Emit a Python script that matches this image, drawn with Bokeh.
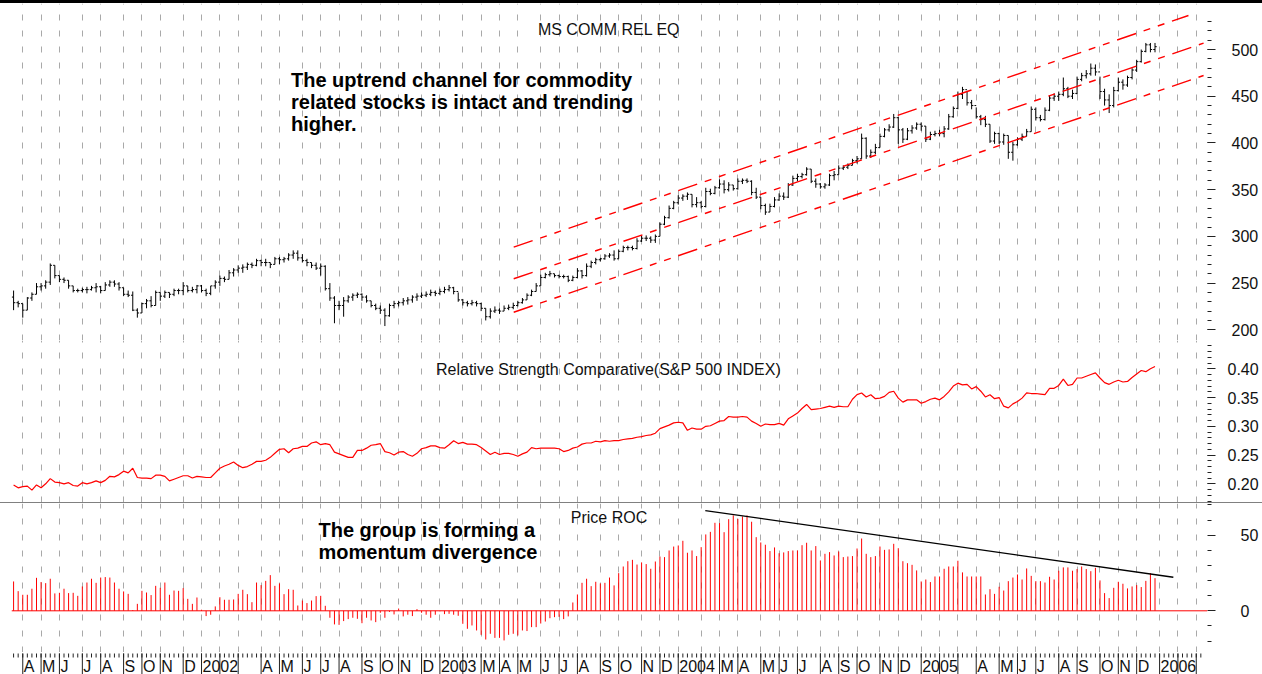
import pandas as pd
from bokeh.plotting import figure
from bokeh.models import (Range1d, FixedTicker, Grid, Span, Label, LabelSet,
                          ColumnDataSource, Div, PrintfTickFormatter)
from bokeh.layouts import column
from bokeh.embed import file_html
from bokeh.resources import INLINE
from bokeh.core.properties import value

FONT = "Liberation Sans"

# ---------------- data (weekly bars, Fridays; week 0 = 2001-03-16) ----------------
first_week = "2001-03-16"
first_open = 235

price_close = [
    229, 228, 221, 234, 238, 246, 247, 251, 269, 258,
    254, 253, 247, 242, 242, 243, 243, 245, 246, 242,
    248, 251, 249, 245, 238, 237, 221, 218, 228, 231,
    226, 240, 236, 240, 238, 242, 242, 247, 242, 243,
    247, 242, 239, 247, 251, 255, 254, 261, 264, 266,
    267, 270, 269, 274, 272, 272, 270, 276, 275, 276,
    280, 282, 277, 274, 272, 269, 266, 268, 244, 234,
    226, 226, 231, 235, 237, 238, 235, 231, 226, 223,
    221, 215, 226, 228, 229, 231, 232, 235, 236, 237,
    238, 240, 239, 241, 243, 245, 241, 232, 229, 228,
    229, 228, 223, 214, 220, 221, 220, 223, 224, 226,
    229, 232, 237, 241, 247, 256, 259, 260, 258, 257,
    257, 253, 256, 263, 258, 268, 272, 275, 276, 279,
    280, 276, 284, 288, 288, 287, 295, 298, 298, 296,
    300, 313, 320, 330, 336, 341, 343, 345, 334, 336,
    332, 348, 346, 352, 356, 350, 355, 351, 359, 360,
    359, 347, 342, 333, 326, 332, 339, 343, 342, 355,
    362, 364, 366, 372, 359, 356, 353, 355, 365, 366,
    373, 374, 376, 381, 383, 405, 386, 390, 395, 407,
    414, 417, 427, 414, 404, 413, 416, 420, 418, 404,
    409, 410, 410, 415, 428, 437, 452, 457, 443, 440,
    428, 425, 420, 402, 410, 401, 408, 390, 398, 404,
    407, 412, 436, 427, 425, 435, 448, 450, 452, 458,
    450, 453, 468, 472, 474, 480, 476, 455, 446, 440,
    456, 465, 462, 470, 478, 487, 498, 505, 500, 503,
]
price_high = [
    242, 231, 228, 235, 240, 250, 250, 253, 271, 269,
    258, 256, 253, 247, 244, 245, 246, 247, 250, 247,
    251, 253, 253, 251, 245, 242, 241, 223, 229, 233,
    236, 242, 240, 242, 240, 244, 244, 251, 247, 246,
    248, 248, 244, 247, 253, 258, 257, 264, 266, 269,
    270, 272, 272, 276, 275, 276, 272, 278, 278, 278,
    282, 285, 285, 281, 276, 272, 272, 271, 269, 250,
    236, 231, 235, 237, 239, 240, 239, 237, 231, 228,
    226, 223, 228, 231, 231, 234, 235, 237, 239, 240,
    241, 243, 242, 244, 246, 248, 246, 240, 233, 231,
    232, 231, 229, 223, 223, 225, 223, 226, 227, 229,
    231, 234, 239, 243, 250, 259, 261, 263, 260, 259,
    259, 258, 258, 266, 264, 271, 274, 277, 277, 281,
    282, 285, 286, 290, 290, 290, 298, 301, 301, 300,
    302, 315, 322, 333, 338, 344, 345, 347, 345, 342,
    338, 352, 351, 354, 361, 360, 358, 355, 362, 362,
    362, 360, 352, 342, 335, 335, 342, 346, 347, 357,
    365, 367, 368, 374, 372, 362, 357, 357, 367, 370,
    376, 376, 378, 383, 386, 410, 406, 393, 399, 410,
    416, 420, 431, 428, 416, 416, 419, 422, 422, 418,
    412, 413, 414, 418, 431, 439, 455, 460, 455, 446,
    438, 430, 429, 420, 412, 411, 410, 408, 401, 406,
    410, 415, 439, 438, 430, 438, 451, 453, 455, 470,
    460, 457, 471, 475, 478, 485, 484, 471, 458, 452,
    460, 470, 468, 472, 480, 489, 500, 507, 507, 507,
]
price_low = [
    221, 224, 213, 221, 231, 238, 242, 244, 248, 255,
    251, 250, 244, 240, 240, 240, 239, 242, 240, 239,
    242, 246, 246, 242, 236, 235, 220, 213, 218, 223,
    224, 226, 231, 234, 234, 236, 238, 237, 240, 240,
    239, 240, 236, 237, 244, 247, 251, 254, 257, 261,
    261, 264, 266, 268, 268, 268, 266, 270, 270, 272,
    274, 276, 274, 272, 268, 266, 264, 258, 242, 231,
    207, 221, 214, 229, 231, 234, 231, 229, 224, 221,
    217, 204, 214, 223, 225, 226, 227, 229, 231, 234,
    235, 236, 236, 237, 239, 241, 238, 230, 226, 225,
    226, 225, 220, 210, 212, 218, 217, 220, 221, 222,
    225, 228, 232, 236, 241, 247, 255, 257, 256, 255,
    255, 251, 252, 255, 255, 257, 266, 270, 273, 275,
    277, 274, 276, 283, 285, 285, 286, 294, 295, 293,
    293, 300, 312, 319, 329, 334, 338, 339, 331, 331,
    330, 331, 344, 345, 351, 346, 348, 349, 350, 356,
    357, 344, 340, 329, 323, 326, 331, 338, 339, 341,
    354, 359, 362, 365, 357, 352, 351, 351, 354, 360,
    366, 371, 372, 376, 378, 383, 383, 384, 388, 395,
    406, 412, 416, 399, 400, 403, 410, 414, 413, 401,
    403, 407, 407, 406, 414, 427, 436, 447, 440, 436,
    426, 419, 417, 400, 399, 399, 398, 383, 381, 397,
    402, 407, 412, 424, 423, 424, 434, 445, 445, 450,
    448, 447, 452, 466, 469, 472, 472, 447, 440, 432,
    438, 455, 457, 460, 468, 476, 486, 497, 497, 497,
]
rs_sp500 = [
    .198, .193, .195, .196, .189, .198, .193, .200, .209, .203,
    .202, .200, .202, .197, .196, .202, .200, .202, .205, .202,
    .206, .213, .212, .216, .222, .219, .227, .211, .210, .210,
    .209, .215, .215, .213, .205, .208, .211, .214, .214, .210,
    .213, .212, .211, .211, .219, .227, .231, .234, .238, .232,
    .228, .230, .234, .239, .239, .241, .246, .253, .260, .261,
    .254, .261, .262, .265, .265, .271, .273, .268, .270, .268,
    .255, .252, .249, .246, .246, .258, .258, .262, .267, .268,
    .270, .256, .254, .250, .255, .256, .251, .248, .253, .261,
    .263, .266, .266, .263, .262, .268, .275, .270, .272, .269,
    .269, .268, .263, .257, .251, .255, .251, .253, .253, .251,
    .248, .252, .255, .263, .261, .262, .262, .262, .262, .261,
    .256, .258, .262, .264, .269, .271, .271, .274, .273, .275,
    .274, .275, .275, .277, .278, .279, .281, .282, .284, .285,
    .288, .296, .299, .302, .306, .307, .306, .293, .297, .295,
    .295, .300, .301, .305, .309, .310, .317, .316, .316, .317,
    .316, .309, .305, .300, .304, .303, .303, .305, .302, .313,
    .318, .323, .331, .338, .329, .330, .331, .333, .335, .333,
    .335, .334, .334, .347, .355, .358, .351, .355, .348, .349,
    .352, .359, .361, .349, .342, .346, .346, .346, .340, .343,
    .347, .349, .346, .352, .360, .370, .375, .372, .373, .365,
    .369, .361, .351, .355, .348, .350, .335, .332, .339, .343,
    .349, .358, .357, .357, .356, .355, .366, .366, .371, .382,
    .371, .373, .384, .384, .387, .390, .393, .384, .376, .373,
    .377, .380, .377, .378, .385, .391, .397, .395, .400, .404,
]
price_roc = [
    19.4, 13.0, 10.6, 10.6, 14.6, 21.8, 19.0, 18.3, 21.2, 11.5,
    11.9, 14.6, 11.7, 11.9, 9.9, 16.1, 18.7, 21.2, 18.5, 22.0,
    22.3, 22.0, 18.7, 14.6, 12.8, 11.2, 0.5, 4.6, 13.2, 12.1,
    10.4, 16.5, 15.2, 18.7, 10.6, 13.4, 13.2, 15.0, 7.9, 4.6,
    8.8, 0.7, -3.5, -2.6, 2.9, 9.0, 7.3, 7.3, 7.5, 11.2,
    13.9, 11.0, 5.7, 18.7, 17.0, 19.8, 23.6, 16.5, 18.1, 11.0,
    14.3, 13.9, 3.5, 6.8, 5.1, 6.8, 9.7, 9.9, 3.3, -4.6,
    -9.0, -9.3, -6.8, -5.5, -4.6, -5.3, -8.2, -4.6, -6.4, -7.5,
    -1.3, -4.6, -0.7, -2.4, 1.5, -3.7, -2.6, -3.5, 1.1, -1.3,
    -2.6, -4.6, -2.6, -0.3, -2.2, -2.0, -2.6, -3.3, -8.6, -11.9,
    -9.7, -13.0, -15.9, -19.0, -15.2, -17.9, -17.9, -19.6, -15.9, -15.2,
    -16.3, -13.0, -13.4, -10.8, -10.8, -8.4, -7.1, -4.9, -4.2, -4.0,
    -5.5, -3.7, 5.5, 10.8, 18.5, 21.2, 16.3, 19.2, 18.1, 18.5,
    22.0, 16.8, 24.9, 29.3, 32.8, 33.7, 30.6, 32.0, 30.9, 27.8,
    32.6, 35.9, 35.5, 39.9, 42.5, 43.2, 46.3, 38.4, 39.9, 36.2,
    42.1, 50.5, 52.2, 58.2, 58.0, 52.0, 60.6, 63.1, 60.8, 62.4,
    63.1, 58.9, 48.7, 45.2, 43.7, 39.5, 41.9, 38.1, 38.6, 39.5,
    39.9, 39.9, 43.4, 45.0, 39.9, 42.8, 33.3, 37.7, 38.8, 36.6,
    39.2, 35.5, 35.9, 36.2, 41.2, 47.8, 37.7, 35.5, 36.2, 42.5,
    40.3, 40.6, 44.3, 41.4, 32.8, 31.5, 30.4, 26.7, 19.4, 20.7,
    19.0, 22.7, 22.7, 27.8, 29.3, 29.3, 33.1, 25.4, 22.7, 22.7,
    22.7, 22.7, 10.8, 14.3, 11.2, 15.9, 13.4, 19.6, 22.0, 24.0,
    20.7, 28.0, 23.1, 19.6, 19.6, 18.7, 22.5, 20.7, 26.5, 28.7,
    28.7, 26.5, 27.6, 29.3, 27.6, 26.2, 28.4, 20.1, 11.7, 8.4,
    15.2, 19.2, 17.9, 14.8, 16.1, 17.0, 15.7, 19.8, 24.9, 21.6,
]

# hand-drawn lines (week index, value)
channel_upper_w = [110.1, 257.3]
channel_upper_v = [288.4, 536.4]
channel_mid_w = [110.1, 260.6]
channel_mid_v = [254.6, 506.8]
channel_low_w = [110.1, 260.6]
channel_low_v = [218.8, 472.2]
roc_trend_w = [151.9, 254.0]
roc_trend_v = [66.3, 22.2]

month_labels = [
    "A", "M", "J", "J", "A", "S", "O", "N", "D",
    "2002", "", "", "A", "M", "J", "J", "A", "S", "O", "N", "D",
    "2003", "", "M", "A", "M", "J", "J", "A", "S", "O", "N", "D",
    "2004", "", "M", "A", "M", "J", "J", "A", "S", "O", "N", "D",
    "2005", "", "", "A", "M", "J", "J", "A", "S", "O", "N", "D",
    "2006", "", "",
]
price_ticks = [200, 250, 300, 350, 400, 450, 500]
rs_ticks = [0.20, 0.25, 0.30, 0.35, 0.40]
roc_ticks = [0, 50]

# ---------------- geometry helpers (page pixels -> data) ----------------
WEEK_PX, WEEK0_PX = 4.584, 8.5
FRAME_L, FRAME_R = 11, 1207
PAGE_W = 1262


def wk(px):
    return (px - WEEK0_PX) / WEEK_PX


def pr(py):      # price panel: 500 at y=49, 0.9343 px per unit
    return 500 + (49.0 - py) / 0.9343


def rsv(py):     # RS panel: 0.40 at y=368.3, 575 px per unit
    return 0.40 + (368.3 - py) / 575.0


def rocv(py):    # ROC panel: 0 at y=610.3, 1.512 px per unit
    return (610.3 - py) / 1.512


weeks = list(range(1, len(price_close) + 1))
dates = pd.date_range(first_week, periods=262, freq="W-FRI")
month_weeks = [i for i in range(1, 262) if dates[i].month != dates[i - 1].month]
minor_weeks = list(range(1, 261))

xr = Range1d(wk(FRAME_L), wk(FRAME_R))
GRID_COLOR = "#a9a9a9"
TICK_COLOR = "#222222"


def base_fig(frame_h, y0, y1, yaxis="right"):
    p = figure(frame_width=FRAME_R - FRAME_L, frame_height=frame_h,
               x_range=xr, y_range=Range1d(y0, y1),
               output_backend="svg", toolbar_location=None,
               x_axis_location=None, y_axis_location=yaxis,
               min_border_left=FRAME_L, min_border_right=PAGE_W - FRAME_R,
               min_border_top=0, min_border_bottom=0,
               background_fill_color="white", border_fill_color="white",
               outline_line_color=None)
    p.grid.visible = False
    return p


def make_fig(frame_h, y0, y1):
    p = base_fig(frame_h, y0, y1)
    p.add_layout(Grid(dimension=0, ticker=FixedTicker(ticks=month_weeks),
                      grid_line_color=GRID_COLOR, grid_line_dash="6 10",
                      grid_line_width=1))
    ax = p.yaxis[0]
    ax.axis_line_color = None
    ax.major_tick_in = 0
    ax.minor_tick_in = 0
    ax.major_tick_out = 8
    ax.minor_tick_out = 4
    ax.major_tick_line_color = TICK_COLOR
    ax.minor_tick_line_color = TICK_COLOR
    ax.major_label_text_font = FONT
    ax.major_label_text_font_size = "16px"
    ax.major_label_text_color = "#111111"
    return p


def title(p, text, px, y):
    p.add_layout(Label(x=wk(px), y=y, text=text, text_align="center",
                       text_baseline="alphabetic", text_font=FONT,
                       text_font_size="16px", text_color="#111111"))


def note(p, text, px, y):
    p.add_layout(Label(x=wk(px), y=y, text=text, text_align="left",
                       text_baseline="alphabetic", text_font=FONT,
                       text_font_size="20px", text_font_style="bold",
                       text_color="#000000"))


# ---------------- price panel (page y 3..340) ----------------
p1 = make_fig(337, pr(340), pr(3))
p1.yaxis[0].ticker = FixedTicker(ticks=price_ticks, minor_ticks=list(range(200, 531, 10)))
p1.yaxis[0].major_label_standoff = 16

opens = [first_open] + price_close[:-1]
src = ColumnDataSource(dict(w=weeks, o=opens, h=price_high, l=price_low, c=price_close,
                            wl=[w - 0.38 for w in weeks], wr=[w + 0.38 for w in weeks]))
p1.segment(x0="w", y0="l", x1="w", y1="h", source=src, line_color="black", line_width=1)
p1.segment(x0="wl", y0="o", x1="w", y1="o", source=src, line_color="black", line_width=1)
p1.segment(x0="w", y0="c", x1="wr", y1="c", source=src, line_color="black", line_width=1)

for cw, cv in ((channel_upper_w, channel_upper_v), (channel_mid_w, channel_mid_v),
               (channel_low_w, channel_low_v)):
    p1.line(cw, cv, line_color="#ff0000", line_width=1.4, line_dash="20 8 7 8 7 8")

title(p1, "MS COMM REL EQ", 608.5, pr(29.2))
note(p1, "The uptrend channel for commodity", 290.5, pr(79.5))
note(p1, "related stocks is intact and trending", 290.5, pr(101.7))
note(p1, "higher.", 290.5, pr(123.9))

# ---------------- relative strength panel (page y 340..502) ----------------
p2 = make_fig(162, rsv(502), rsv(340))
p2.yaxis[0].ticker = FixedTicker(ticks=rs_ticks,
                                 minor_ticks=[round(0.17 + 0.01 * i, 2) for i in range(28)])
p2.yaxis[0].formatter = PrintfTickFormatter(format="%.2f")
p2.yaxis[0].major_label_standoff = 12
p2.line(weeks, rs_sp500, line_color="#ff0000", line_width=1.2)
title(p2, "Relative Strength Comparative(S&P 500 INDEX)", 608, rsv(369.3))

# ---------------- price ROC panel (page y 503..652) ----------------
p3 = make_fig(149, rocv(652), rocv(503))
p3.yaxis[0].ticker = FixedTicker(ticks=roc_ticks, minor_ticks=[-20, -10, 10, 20, 30, 40, 60, 70])
p3.yaxis[0].major_label_standoff = 25

rsrc = ColumnDataSource(dict(w=weeks, v=price_roc))
p3.segment(x0="w", y0=0, x1="w", y1="v", source=rsrc, line_color="#ff0000", line_width=1)
p3.add_layout(Span(location=0, dimension="width", line_color="#ff0000", line_width=1))
p3.line(roc_trend_w, roc_trend_v, line_color="black", line_width=1.3)

title(p3, "Price ROC", 608.5, rocv(516.7))
note(p3, "The group is forming a", 318, rocv(529.5))
note(p3, "momentum divergence", 318, rocv(551.7))

# ---------------- time axis strip (page y 652..674), y = pixels above the page bottom ----------------
p4 = base_fig(22, 0, 22, yaxis=None)
tick_src = ColumnDataSource(dict(x=month_weeks))
wtick_src = ColumnDataSource(dict(x=minor_weeks))
p4.segment(x0="x", y0=21, x1="x", y1=0, source=tick_src, line_color=TICK_COLOR, line_width=1)
p4.segment(x0="x", y0=21, x1="x", y1=17, source=wtick_src, line_color=TICK_COLOR, line_width=1)
lab_src = ColumnDataSource(dict(x=month_weeks, text=month_labels))
p4.add_layout(LabelSet(x="x", y=3.0, text="text", source=lab_src, x_offset=1,
                       text_align="left", text_baseline="alphabetic",
                       text_font=value(FONT), text_font_size=value("16px"),
                       text_color="#111111"))

top_bar = Div(text="", width=PAGE_W, height=3, margin=0,
              styles={"background-color": "#000000", "overflow": "hidden"})
sep = Div(text="", width=PAGE_W, height=1, margin=0,
          styles={"background-color": "#808080", "overflow": "hidden"})

layout = column(top_bar, p1, p2, sep, p3, p4, spacing=0)

open("out.html", "w").write(file_html(layout, INLINE))
